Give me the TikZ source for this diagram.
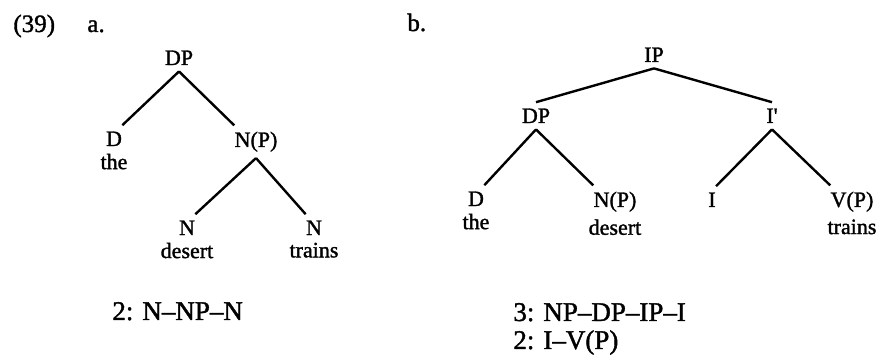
\documentclass[tikz,border=0pt]{standalone}
\usepackage{fontspec}
\setmainfont{Liberation Serif}[FakeBold=1.4]
\usetikzlibrary{positioning}
\tikzset{
  cat/.style={inner xsep=0pt, inner ysep=3pt, anchor=base, font=\fontsize{11}{13}\selectfont},
  word/.style={inner xsep=0pt, inner ysep=0.5pt, font=\fontsize{11}{13}\selectfont},
  branch/.style={draw=black, line width=1.2pt},
  exlabel/.style={anchor=base west, inner sep=0pt, font=\fontsize{12.5}{15}\selectfont},
  gloss/.style={anchor=base west, inner sep=0pt, font=\fontsize{13.5}{16}\selectfont},
}

\begin{document}
\begin{tikzpicture}[x=0.5pt, y=-0.5pt]
  \useasboundingbox (0,0) rectangle (885,358);
  % example number and sub-labels
  \node[exlabel] (exnum) at (13,32) {(39)};
  \node[exlabel] (suba) at (87,32) {a.};
  \node[exlabel] (subb) at (407,31) {b.};
  % tree a
  \node[cat] (dpa) at (179,65) {DP};
  \node[cat] (da) at (114,146) {D};
  \node[word, below=0pt of da] (thea) {the};
  \node[cat] (npa) at (256,147) {N(P)};
  \node[cat] (na) at (187,235) {N};
  \node[word, below=0pt of na] (deserta) {desert};
  \node[cat] (nb) at (314,235) {N};
  \node[word, below=0pt of nb] (trainsa) {trains};
  \draw[branch] (dpa.south) -- (da.north east);
  \draw[branch] (dpa.south) -- (npa.north west);
  \draw[branch] (npa.south) -- (na.north east);
  \draw[branch] (npa.south) -- (nb.north west);
  \node[gloss] (suma) at (112,320) {2: N--NP--N};
  % tree b
  \node[cat] (ip) at (654,62) {IP};
  \node[cat] (dpb) at (536,123) {DP};
  \node[cat] (ibar) at (772,123) {I\textquotesingle};
  \node[cat] (db) at (476,206) {D};
  \node[word, below=0pt of db] (theb) {the};
  \node[cat] (npb) at (615,207) {N(P)};
  \node[word, below=0pt of npb] (desertb) {desert};
  \node[cat] (ib) at (712,207) {I};
  \node[cat] (vpb) at (852,207) {V(P)};
  \node[word, below=0pt of vpb] (trainsb) {trains};
  \draw[branch] (ip.south) -- (dpb.north);
  \draw[branch] (ip.south) -- (ibar.north);
  \draw[branch] (dpb.south) -- (db.north east);
  \draw[branch] (dpb.south) -- (npb.north west);
  \draw[branch] (ibar.south) -- (ib.north east);
  \draw[branch] (ibar.south) -- (vpb.north west);
  \node[gloss] (sumb) at (513,321) {3: NP--DP--IP--I};
  \node[gloss] (sumc) at (513,349) {2: I--V(P)};
\end{tikzpicture}
\end{document}
